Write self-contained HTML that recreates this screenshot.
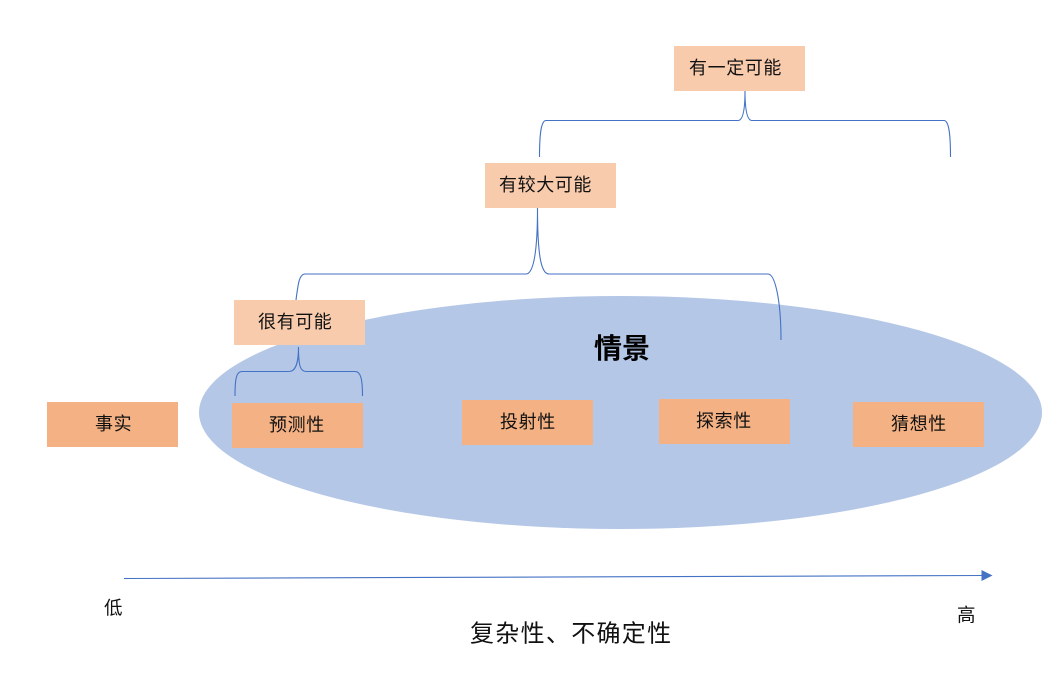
<!DOCTYPE html>
<html>
<head>
<meta charset="utf-8">
<style>
html,body{margin:0;padding:0;background:#fff;}
svg{display:block;}
text{font-family:"Liberation Sans","Noto Sans CJK SC",sans-serif;fill:#111;dominant-baseline:central;}
.t{font-size:18px;letter-spacing:0.6px;}
</style>
</head>
<body>
<svg width="1055" height="687" viewBox="0 0 1055 687" xmlns="http://www.w3.org/2000/svg">
<rect width="1055" height="687" fill="#fff"/>
<ellipse cx="620.5" cy="412.5" rx="421.5" ry="116.5" fill="#B4C7E7"/>

<g fill="none" stroke="#4472C4" stroke-width="1.1">
<path d="M539.5 157 C539.5 135 541 120.5 546 120.5 L738 120.5 C743 120.5 745 110 745 91 C745 110 747 120.5 752 120.5 L944 120.5 C949 120.5 950.5 135 950.5 157"/>
<path d="M296 300 C298 285 299 274 305 274 L526 274 C533 274 537.5 255 537.5 208 C537.5 255 541 274 549 274 L768 274 C775 274 781 300 781 340"/>
<path d="M235 396 C235 380 236 371.5 242 371.5 L289 371.5 C295 371.5 298.5 365 298.5 347 C298.5 365 300 371.5 306 371.5 L355 371.5 C361 371.5 362.5 380 362.5 396"/>
<path d="M124 578.5 L984 575.5"/>
</g>
<path d="M981.5 570 L992.5 575.5 L981.5 581 Z" fill="#4472C4"/>

<rect x="674" y="46" width="131" height="45" fill="#F8CBAD"/>
<rect x="485" y="163" width="131" height="45" fill="#F8CBAD"/>
<rect x="234" y="300" width="131" height="45" fill="#F8CBAD"/>
<rect x="47" y="402" width="131" height="45" fill="#F4B183"/>
<rect x="232" y="403" width="131" height="45" fill="#F4B183"/>
<rect x="462" y="400" width="131" height="45" fill="#F4B183"/>
<rect x="659" y="399" width="131" height="45" fill="#F4B183"/>
<rect x="853" y="402" width="131" height="45" fill="#F4B183"/>

<text class="t" x="689" y="68">有一定可能</text>
<text class="t" x="499" y="185">有较大可能</text>
<text class="t" x="258" y="322">很有可能</text>
<text class="t" x="95" y="424">事实</text>
<text class="t" x="269" y="425">预测性</text>
<text class="t" x="500" y="422">投射性</text>
<text class="t" x="696" y="421">探索性</text>
<text class="t" x="891" y="424">猜想性</text>
<text x="594" y="348.5" style="font-size:28px;font-weight:bold;fill:#000">情景</text>
<text x="104" y="608" style="font-size:18.5px">低</text>
<text x="957" y="615" style="font-size:18.5px">高</text>
<text x="470" y="634" style="font-size:24px;letter-spacing:1.3px">复杂性、不确定性</text>
</svg>
</body>
</html>
